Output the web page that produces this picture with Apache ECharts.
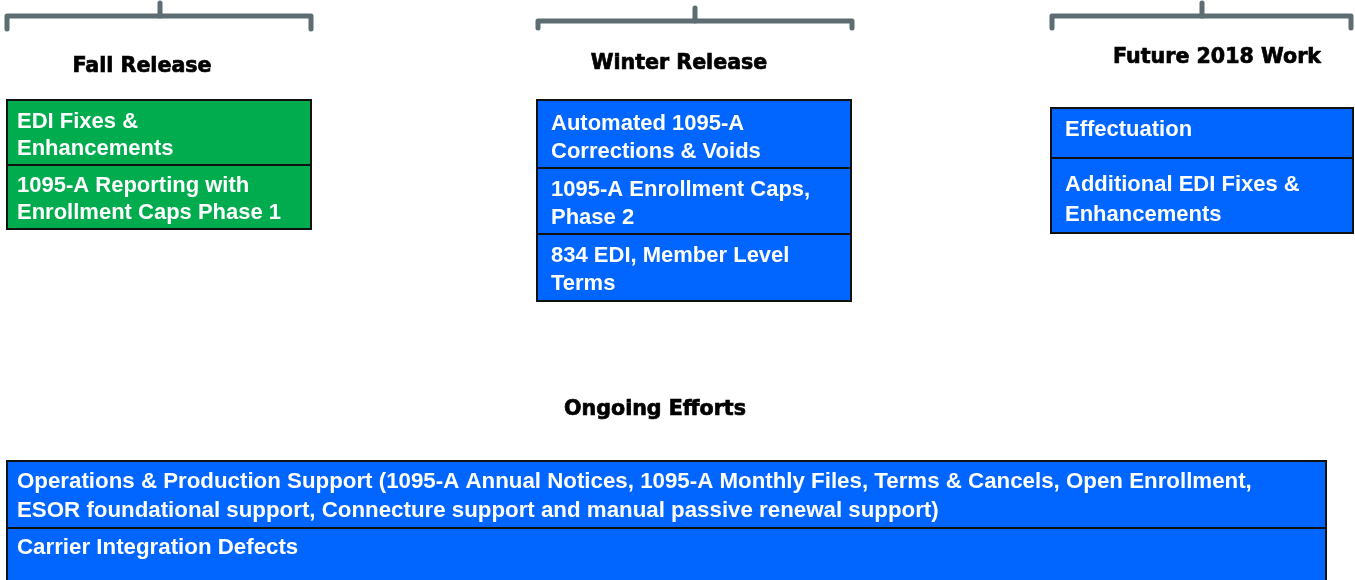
<!DOCTYPE html>
<html>
<head>
<meta charset="utf-8">
<script src="https://cdn.jsdelivr.net/npm/echarts@6/dist/echarts.min.js"></script>
<style>
html,body{margin:0;padding:0;background:#fff;}
#chart{width:1355px;height:580px;}
</style>
</head>
<body>
<div id="chart"></div>
<script>
// ---- content ----
const groupTitles = ['Fall Release', 'Winter Release', 'Future 2018 Work', 'Ongoing Efforts'];
const fallItems = ['EDI Fixes &\nEnhancements', '1095-A Reporting with\nEnrollment Caps Phase 1'];
const winterItems = ['Automated 1095-A\nCorrections & Voids', '1095-A Enrollment Caps,\nPhase 2', '834 EDI, Member Level\nTerms'];
const futureItems = ['Effectuation', 'Additional EDI Fixes &\nEnhancements'];
const ongoingItems = [
  'Operations & Production Support (1095-A Annual Notices, 1095-A Monthly Files, Terms & Cancels, Open Enrollment,\nESOR foundational support, Connecture support and manual passive renewal support)',
  'Carrier Integration Defects'
];

// ---- layout (pixel-space coordinates on hidden axes) ----
const GREEN = '#00AC4E';
const BLUE = '#0066FF';
const BRACKET = '#5d6d72';
const layouts = [
  {x0: 7, x1: 311, rows: [100, 165, 229], off: [22, 21], lh: 27, fs: 22, pad: 10, color: GREEN, title: [142, 67],
   bracket: {x0: 7, x1: 311, xc: 160, top: 3, yh: 16, end: 29}},
  {x0: 537, x1: 851, rows: [100, 168, 234, 301], off: [24, 22, 22], lh: 28, fs: 22, pad: 14, color: BLUE, title: [679, 64],
   bracket: {x0: 538, x1: 852, xc: 695, top: 8, yh: 21, end: 28}},
  {x0: 1051, x1: 1353, rows: [108, 158, 233], off: [22, 27], lh: 30, fs: 22, pad: 14, color: BLUE, title: [1217, 58],
   bracket: {x0: 1052, x1: 1351, xc: 1202, top: 3, yh: 16, end: 28}},
  {x0: 7, x1: 1326, rows: [461, 528, 610], off: [21, 20], lh: 29, fs: 22.3, pad: 10, color: BLUE, title: [655, 410], bracket: null}
];
const groupItems = [fallItems, winterItems, futureItems, ongoingItems];

const boxData = [];
groupItems.forEach((items, gi) => items.forEach((t, ri) => boxData.push([gi, ri])));
const groupData = groupTitles.map((t, gi) => [gi]);

const chart = echarts.init(document.getElementById('chart'), null, {renderer: 'canvas'});
chart.setOption({
  animation: false,
  backgroundColor: '#ffffff',
  grid: {left: 0, right: 0, top: 0, bottom: 0},
  xAxis: {type: 'value', min: 0, max: 1355, show: false},
  yAxis: {type: 'value', min: 0, max: 580, inverse: true, show: false},
  series: [
    {
      type: 'custom',
      clip: false,
      data: boxData,
      renderItem: function (params, api) {
        const gi = api.value(0), ri = api.value(1);
        const L = layouts[gi];
        const p0 = api.coord([L.x0, L.rows[ri]]);
        const p1 = api.coord([L.x1, L.rows[ri + 1]]);
        return {
          type: 'group',
          children: [
            {type: 'rect', shape: {x: p0[0], y: p0[1], width: p1[0] - p0[0], height: p1[1] - p0[1]},
             style: {fill: L.color, stroke: '#111', lineWidth: 2}},
            {type: 'text', z2: 10,
             style: {x: p0[0] + L.pad, y: p0[1] + L.off[ri] - L.lh / 2, text: groupItems[gi][ri],
                     fill: '#ffffff', font: 'bold ' + L.fs + 'px "Liberation Sans", Arial, sans-serif',
                     lineHeight: L.lh, verticalAlign: 'top', align: 'left'}}
          ]
        };
      }
    },
    {
      type: 'custom',
      clip: false,
      data: groupData,
      renderItem: function (params, api) {
        const gi = api.value(0);
        const L = layouts[gi];
        const children = [];
        const tp = api.coord(L.title);
        children.push({type: 'text',
          style: {x: tp[0], y: tp[1], text: groupTitles[gi], fill: '#000', stroke: '#000', lineWidth: 0.7,
                  font: 'bold 20.6px "DejaVu Sans", sans-serif', align: 'center', verticalAlign: 'middle'}});
        if (L.bracket) {
          const b = L.bracket;
          const a = api.coord([b.x0, b.end]), c = api.coord([b.x0, b.yh]);
          const d = api.coord([b.x1, b.yh]), e = api.coord([b.x1, b.end]);
          const t0 = api.coord([b.xc, b.top]), t1 = api.coord([b.xc, b.yh]);
          children.push({type: 'polyline', shape: {points: [a, c, d, e]},
            style: {stroke: BRACKET, lineWidth: 5, fill: null, lineCap: 'round', lineJoin: 'round'}});
          children.push({type: 'line', shape: {x1: t0[0], y1: t0[1], x2: t1[0], y2: t1[1]},
            style: {stroke: BRACKET, lineWidth: 5, lineCap: 'round'}});
        }
        return {type: 'group', children: children};
      }
    }
  ]
});
</script>
</body>
</html>
